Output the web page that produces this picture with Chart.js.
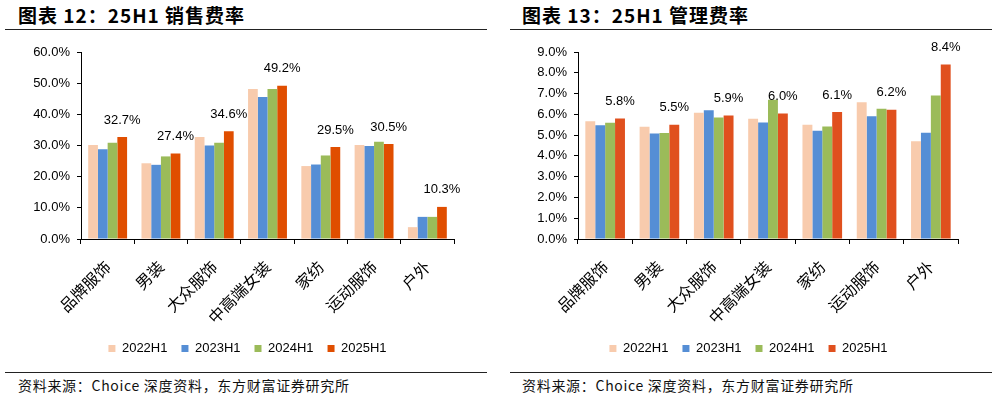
<!DOCTYPE html>
<html><head><meta charset="utf-8">
<script src="https://cdn.jsdelivr.net/npm/chart.js@4.4.1/dist/chart.umd.min.js"></script>
<style>
body{margin:0;width:997px;height:397px;background:#fff;position:relative;overflow:hidden;font-family:"Noto Sans CJK SC",sans-serif;}
.title{position:absolute;top:1px;font-weight:bold;font-size:19px;letter-spacing:1px;color:#000;white-space:nowrap;}
.line{position:absolute;height:1px;background:#222;}
.src{position:absolute;top:375px;font-size:14px;letter-spacing:0.7px;color:#111;white-space:nowrap;}
.box{position:absolute;top:35px;}
</style></head><body>
<div class="title" style="left:18px">图表 12：25H1 销售费率</div>
<div class="title" style="left:522px">图表 13：25H1 管理费率</div>
<div class="line" style="left:5px;top:29px;width:482px"></div>
<div class="line" style="left:510px;top:29px;width:482px"></div>
<div class="box" style="left:0px"><canvas id="c1" width="495" height="330"></canvas></div>
<div class="box" style="left:500px"><canvas id="c2" width="497" height="330"></canvas></div>
<div class="line" style="left:5px;top:372px;width:482px"></div>
<div class="line" style="left:510px;top:372px;width:482px"></div>
<div class="src" style="left:18px">资料来源：Choice 深度资料，东方财富证券研究所</div>
<div class="src" style="left:522px">资料来源：Choice 深度资料，东方财富证券研究所</div>
<script>
const categories = ["品牌服饰","男装","大众服饰","中高端女装","家纺","运动服饰","户外"];
const seriesNames = ["2022H1","2023H1","2024H1","2025H1"];

// 销售费率 (%)
const sales2022 = [30.2, 24.3, 32.7, 48.1, 23.4, 30.2, 3.8];
const sales2023 = [28.8, 23.8, 30.0, 45.6, 23.9, 29.8, 7.1];
const sales2024 = [30.9, 26.5, 30.9, 48.1, 26.8, 31.2, 7.1];
const sales2025 = [32.7, 27.4, 34.6, 49.2, 29.5, 30.5, 10.3];
const salesTicks = [0, 10, 20, 30, 40, 50, 60];

// 管理费率 (%)
const admin2022 = [5.67, 5.40, 6.08, 5.79, 5.50, 6.58, 4.71];
const admin2023 = [5.47, 5.08, 6.20, 5.61, 5.21, 5.91, 5.11];
const admin2024 = [5.60, 5.10, 5.85, 6.70, 5.42, 6.27, 6.91];
const admin2025 = [5.80, 5.50, 5.94, 6.04, 6.11, 6.22, 8.40];
const adminTicks = [0, 1, 2, 3, 4, 5, 6, 7, 8, 9];

const colorsL = ["#F8CBAD","#558ED5","#9BBB59","#E04E00"];
const colorsR = ["#F8CBAD","#558ED5","#9BBB59","#E0501E"];

const labelPlugin = {
  id: 'lastLabels',
  afterDatasetsDraw(chart) {
    const ctx = chart.ctx;
    const idx = chart.data.datasets.length - 1;
    const meta = chart.getDatasetMeta(idx);
    const data = chart.data.datasets[idx].data;
    ctx.save();
    ctx.font = '13px "Liberation Sans", Arial, sans-serif';
    ctx.fillStyle = '#000';
    ctx.textAlign = 'center';
    ctx.textBaseline = 'middle';
    meta.data.forEach((el, i) => {
      ctx.fillText(data[i].toFixed(1) + '%', el.x, el.y - 17);
    });
    ctx.restore();
  }
};

function makeChart(id, sets, colors, ticks, padRight, yWidth) {
  const maxV = ticks[ticks.length - 1];
  const step = ticks[1] - ticks[0];
  return new Chart(document.getElementById(id), {
    type: 'bar',
    data: {
      labels: categories,
      datasets: sets.map((d, i) => ({
        label: seriesNames[i], data: d, backgroundColor: colors[i],
        categoryPercentage: 0.73, barPercentage: 1.0, borderWidth: 0
      }))
    },
    options: {
      responsive: false, animation: false, devicePixelRatio: 1,
      layout: { padding: { left: 0, right: 0, top: 17, bottom: 0 } },
      plugins: {
        tooltip: { enabled: false },
        legend: {
          position: 'bottom',
          labels: { boxWidth: 7, boxHeight: 7, padding: 14, color: '#000',
            font: { size: 13, family: '"Liberation Sans", Arial, sans-serif' } }
        }
      },
      scales: {
        x: {
          grid: { offset: true, drawOnChartArea: false, drawTicks: true, tickLength: 5, color: '#000' },
          border: { color: '#000', width: 1 },
          ticks: { color: '#000', minRotation: 45, maxRotation: 45, padding: 13,
            font: { size: 16, family: '"Noto Sans CJK SC", sans-serif' } },
          afterFit(s) { s.height = 89; }
        },
        y: {
          min: 0, max: maxV,
          grid: { drawOnChartArea: false, drawTicks: true, tickLength: 4, color: '#000' },
          border: { color: '#000', width: 1 },
          ticks: { stepSize: step, color: '#000', padding: 7,
            font: { size: 13, family: '"Liberation Sans", Arial, sans-serif' },
            callback: v => v.toFixed(1) + '%' },
          afterFit(s) { s.width = yWidth; }
        },
        yPad: {
          position: 'right', display: true,
          grid: { display: false }, border: { display: false },
          ticks: { display: false },
          afterFit(s) { s.width = padRight; }
        }
      }
    },
    plugins: [labelPlugin]
  });
}

makeChart('c1', [sales2022, sales2023, sales2024, sales2025], colorsL, salesTicks, 41, 81);
makeChart('c2', [admin2022, admin2023, admin2024, admin2025], colorsR, adminTicks, 39, 78);
</script>
</body></html>
